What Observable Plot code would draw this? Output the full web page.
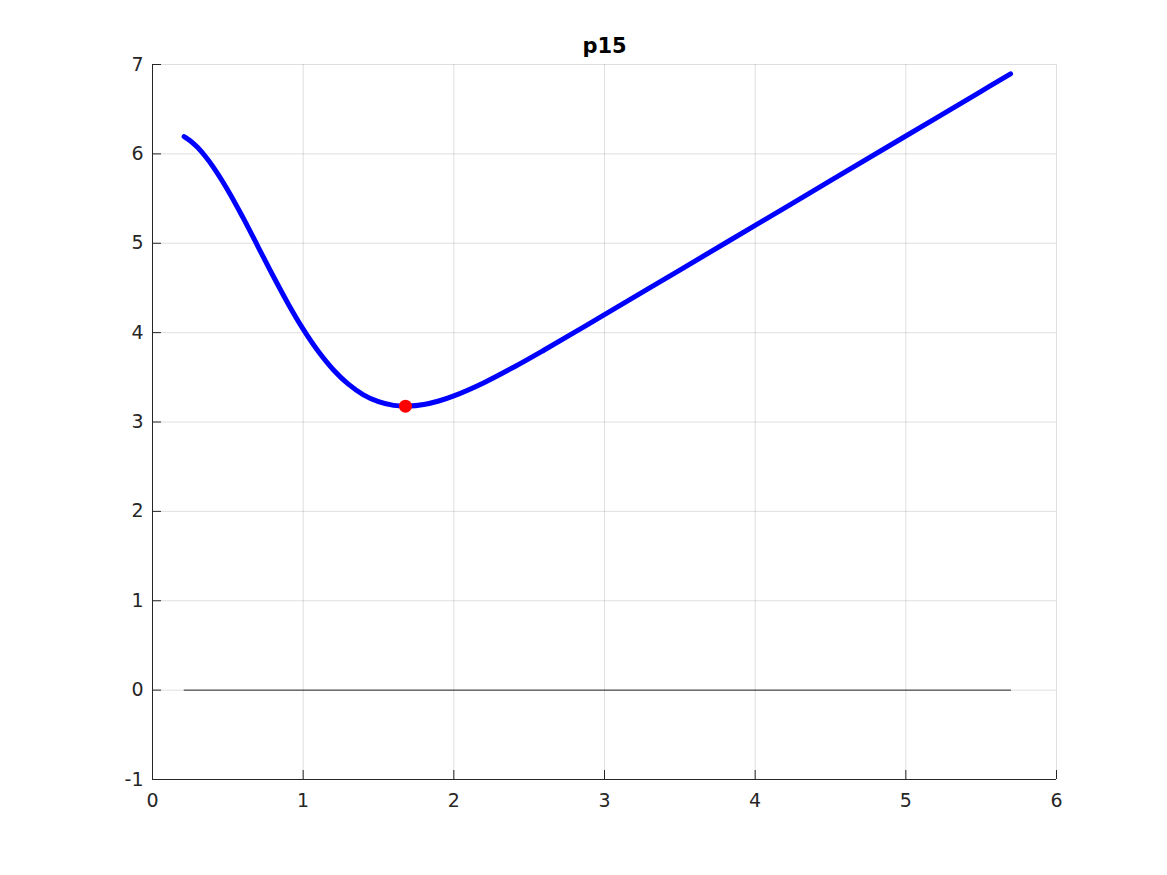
<!DOCTYPE html>
<html>
<head>
<meta charset="utf-8">
<script src="https://cdn.jsdelivr.net/npm/d3@7"></script>
<script src="https://cdn.jsdelivr.net/npm/@observablehq/plot@0.6"></script>
<style>
  html, body { margin: 0; padding: 0; background: #fff; }
  #chart { width: 1167px; height: 875px; }
</style>
</head>
<body>
<div id="chart"></div>
<script>
const titleText = "p15";
const xTicks = [0, 1, 2, 3, 4, 5, 6];
const yTicks = [-1, 0, 1, 2, 3, 4, 5, 6, 7];
const xTickLabels = ["0", "1", "2", "3", "4", "5", "6"];
const yTickLabels = ["-1", "0", "1", "2", "3", "4", "5", "6", "7"];

const curveX = [0.21, 0.25, 0.3, 0.35, 0.4, 0.5, 0.6, 0.7, 0.8, 0.9, 1.0, 1.1, 1.2, 1.3, 1.4, 1.5, 1.6, 1.7, 1.8, 1.9, 2.0, 2.2, 2.4, 2.6, 2.8, 3.0, 3.5, 4.0, 4.5, 5.0, 5.5, 5.695];
const curveY = [6.194, 6.147, 6.070, 5.973, 5.860, 5.594, 5.289, 4.963, 4.636, 4.324, 4.039, 3.791, 3.585, 3.423, 3.304, 3.227, 3.186, 3.178, 3.196, 3.235, 3.292, 3.440, 3.616, 3.806, 4.002, 4.201, 4.70, 5.20, 5.70, 6.20, 6.70, 6.895];

const zeroLineX = [0.21, 5.695];
const zeroLineY = [0, 0];

const minX = [1.679];
const minY = [3.177];

const curve = curveX.map((x, i) => ({x, y: curveY[i]}));
const zeroLine = zeroLineX.map((x, i) => ({x, y: zeroLineY[i]}));
const minPt = minX.map((x, i) => ({x, y: minY[i]}));

const axisColor = "#262626";
const font = "DejaVu Sans, sans-serif";

const chart = Plot.plot({
  width: 1167,
  height: 875,
  marginLeft: 152,
  marginRight: 111,
  marginTop: 64,
  marginBottom: 96,
  style: {fontFamily: font, fontSize: "19px", color: axisColor, background: "#fff"},
  x: {domain: [0, 6]},
  y: {domain: [-1, 7]},
  marks: [
    Plot.gridX(xTicks, {stroke: axisColor, strokeOpacity: 0.15, strokeWidth: 1}),
    Plot.gridY(yTicks, {stroke: axisColor, strokeOpacity: 0.15, strokeWidth: 1}),
    Plot.ruleX([xTicks[0]], {stroke: axisColor, strokeWidth: 1}),
    Plot.ruleY([yTicks[0]], {stroke: axisColor, strokeWidth: 1}),
    Plot.axisX(xTicks, {anchor: "bottom", label: null, tickSize: -9, tickPadding: 23, stroke: axisColor, fill: axisColor,
      tickFormat: (d) => xTickLabels[xTicks.indexOf(d)], fontSize: 19}),
    Plot.axisY(yTicks, {anchor: "left", label: null, tickSize: -9, tickPadding: 18, stroke: axisColor, fill: axisColor,
      tickFormat: (d) => yTickLabels[yTicks.indexOf(d)], fontSize: 19}),
    Plot.line(zeroLine, {x: "x", y: "y", stroke: axisColor, strokeWidth: 1}),
    Plot.line(curve, {x: "x", y: "y", stroke: "#0000ff", strokeWidth: 5, curve: "catmull-rom"}),
    Plot.dot(minPt, {x: "x", y: "y", r: 6.5, fill: "#ff0000", stroke: "none"}),
    Plot.text([titleText], {frameAnchor: "top", lineAnchor: "top", dy: -26, fontWeight: "bold", fontSize: 21, fill: "#000", text: (d) => d})
  ]
});
document.getElementById("chart").appendChild(chart);
</script>
</body>
</html>
